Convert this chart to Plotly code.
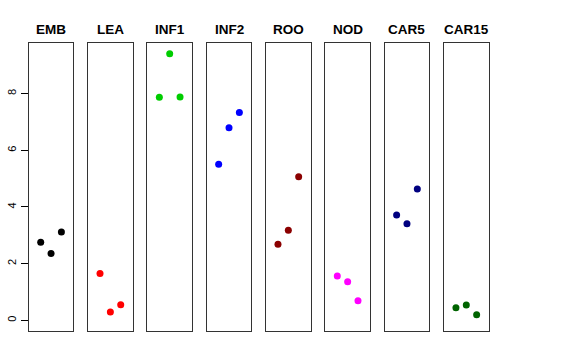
import plotly.graph_objects as go

categories = ["EMB", "LEA", "INF1", "INF2", "ROO", "NOD", "CAR5", "CAR15"]
x_index = [1, 2, 3]
emb = [2.75, 2.36, 3.12]
lea = [1.65, 0.29, 0.55]
inf1 = [7.87, 9.41, 7.88]
inf2 = [5.51, 6.80, 7.34]
roo = [2.68, 3.18, 5.07]
nod = [1.56, 1.36, 0.69]
car5 = [3.72, 3.41, 4.63]
car15 = [0.44, 0.54, 0.19]
series = [emb, lea, inf1, inf2, roo, nod, car5, car15]
colors = ["#000000", "#FF0000", "#00CD00", "#0000FF", "#8B0000", "#FF00FF", "#000080", "#006400"]
y_ticks = [0, 2, 4, 6, 8]

W, H = 576, 360
left0, step, pw = 28.7, 59.32, 44.7
top_px, bot_px = 43, 331

fig = go.Figure()
for i, (cat, vals, col) in enumerate(zip(categories, series, colors)):
    n = "" if i == 0 else str(i + 1)
    fig.add_trace(go.Scatter(x=x_index, y=vals, mode="markers",
                             marker=dict(color=col, size=7),
                             xaxis="x" + n, yaxis="y" + n, showlegend=False))
    x0 = (left0 + step * i) / W
    x1 = (left0 + step * i + pw) / W
    fig.layout["xaxis" + n] = dict(domain=[x0, x1], range=[-0.16, 4.16],
                                   showticklabels=False, ticks="", showgrid=False,
                                   zeroline=False, showline=True, mirror=True, automargin=False,
                                   linecolor="#333333", linewidth=1, anchor="y" + n)
    yd = dict(domain=[(H - bot_px) / H, (H - top_px) / H], range=[-0.38, 9.79],
              showgrid=False, zeroline=False, showline=True, mirror=True, automargin=False,
              linecolor="#333333", linewidth=1, anchor="x" + n)
    if i == 0:
        yd.update(tickvals=y_ticks, ticktext=[str(v) for v in y_ticks],
                  ticks="outside", ticklen=7, tickcolor="#000000",
                  tickangle=-90, tickfont=dict(family="Liberation Sans", size=11, color="#000000"))
    else:
        yd.update(showticklabels=False, ticks="")
    fig.layout["yaxis" + n] = yd
    fig.add_annotation(text="<b>%s</b>" % cat, xref="paper", yref="paper",
                       x=(x0 + x1) / 2, y=(H - 29) / H, xanchor="center", yanchor="middle",
                       showarrow=False, font=dict(family="Liberation Sans", size=13.5, color="#000000"))

fig.update_layout(width=W, height=H, margin=dict(l=0, r=0, t=0, b=0),
                  paper_bgcolor="white", plot_bgcolor="white")
fig.write_html("out.html", config={"displayModeBar": False},
               post_script="document.body.style.margin='0';")
